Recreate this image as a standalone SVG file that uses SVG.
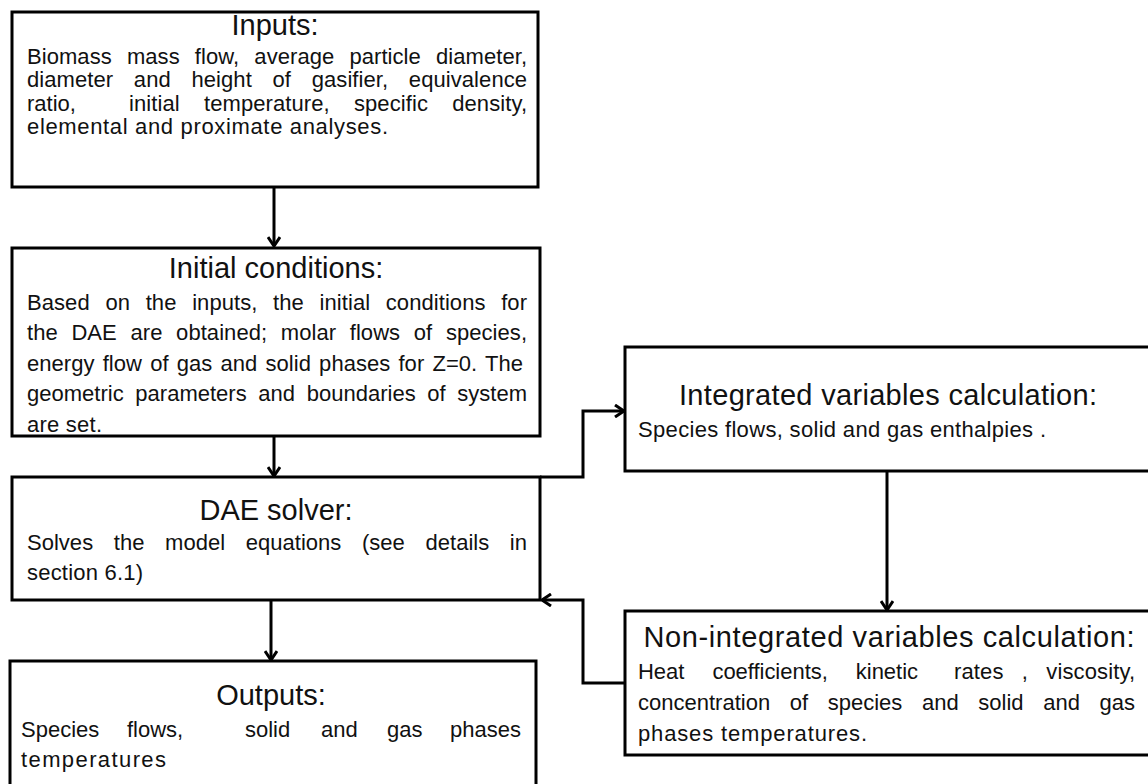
<svg xmlns="http://www.w3.org/2000/svg" width="1148" height="784" viewBox="0 0 1148 784">
<defs>
<style>
.box{fill:#fff;stroke:#000;stroke-width:3}
.t{font-family:"Liberation Sans",Arial,sans-serif;font-size:29px;fill:#111;text-anchor:middle}
.b{font-family:"Liberation Sans",Arial,sans-serif;font-size:22px;fill:#111}
.c{fill:none;stroke:#000;stroke-width:3}
</style>
<marker id="ah" markerWidth="14" markerHeight="14" refX="11" refY="7" orient="auto" markerUnits="userSpaceOnUse">
<polyline points="2,1 11,7 2,13" fill="none" stroke="#000" stroke-width="3"/>
</marker>
</defs>
<rect width="1148" height="784" fill="#fff"/>
<g id="connectors">
<line class="c" x1="274" y1="187" x2="274" y2="246" marker-end="url(#ah)"/>
<line class="c" x1="274" y1="436" x2="274" y2="476" marker-end="url(#ah)"/>
<line class="c" x1="271" y1="600" x2="271" y2="660" marker-end="url(#ah)"/>
<polyline class="c" points="540,477 583,477 583,411 624,411" marker-end="url(#ah)"/>
<line class="c" x1="887" y1="471" x2="887" y2="610" marker-end="url(#ah)"/>
<polyline class="c" points="625,683 583,683 583,600 542,600" marker-end="url(#ah)"/>
</g>
<g id="inputs">
<rect class="box" x="12" y="12" width="526" height="175"/>
<text class="t" x="275" y="35">Inputs:</text>
<text class="b" x="27" y="64" word-spacing="9" textLength="500" lengthAdjust="spacing">Biomass mass flow, average particle diameter,</text>
<text class="b" x="27" y="87" word-spacing="14.5" textLength="500" lengthAdjust="spacing">diameter and height of gasifier, equivalence</text>
<text class="b" x="27" y="111">ratio,</text>
<text class="b" x="129" y="111" word-spacing="18" textLength="398" lengthAdjust="spacing">initial temperature, specific density,</text>
<text class="b" x="27" y="134" textLength="361" lengthAdjust="spacing">elemental and proximate analyses.</text>
</g>
<g id="initial">
<rect class="box" x="12" y="248" width="528" height="188"/>
<text class="t" x="276" y="278">Initial conditions:</text>
<text class="b" x="27" y="310" word-spacing="9.5" textLength="500" lengthAdjust="spacing">Based on the inputs, the initial conditions for</text>
<text class="b" x="27" y="340" word-spacing="7.5" textLength="500" lengthAdjust="spacing">the DAE are obtained; molar flows of species,</text>
<text class="b" x="27" y="371" word-spacing="2" textLength="496" lengthAdjust="spacing">energy flow of gas and solid phases for Z=0. The</text>
<text class="b" x="27" y="401" word-spacing="5.5" textLength="500" lengthAdjust="spacing">geometric parameters and boundaries of system</text>
<text class="b" x="27" y="432" textLength="75" lengthAdjust="spacing">are set.</text>
</g>
<g id="dae">
<rect class="box" x="12" y="477" width="528" height="123"/>
<text class="t" x="276" y="520">DAE solver:</text>
<text class="b" x="27" y="550" word-spacing="14.5" textLength="500" lengthAdjust="spacing">Solves the model equations (see details in</text>
<text class="b" x="27" y="580" textLength="116" lengthAdjust="spacing">section 6.1)</text>
</g>
<g id="outputs">
<rect class="box" x="10" y="661" width="526" height="140"/>
<text class="t" x="271" y="705">Outputs:</text>
<text class="b" x="21" y="737">Species</text>
<text class="b" x="127" y="737">flows,</text>
<text class="b" x="245" y="737">solid</text>
<text class="b" x="321" y="737">and</text>
<text class="b" x="387" y="737">gas</text>
<text class="b" x="450" y="737">phases</text>
<text class="b" x="21" y="767" textLength="145" lengthAdjust="spacing">temperatures</text>
</g>
<g id="integrated">
<rect class="box" x="625" y="347" width="540" height="124"/>
<text class="t" x="888" y="405" textLength="418" lengthAdjust="spacing">Integrated variables calculation:</text>
<text class="b" x="638" y="437" textLength="408" lengthAdjust="spacing">Species flows, solid and gas enthalpies .</text>
</g>
<g id="nonintegrated">
<rect class="box" x="625" y="611" width="540" height="144"/>
<text class="t" x="889" y="647" textLength="491" lengthAdjust="spacing">Non-integrated variables calculation:</text>
<text class="b" x="638" y="679" word-spacing="22" textLength="280" lengthAdjust="spacing">Heat coefficients, kinetic</text>
<text class="b" x="954" y="679" word-spacing="12" textLength="181" lengthAdjust="spacing">rates , viscosity,</text>
<text class="b" x="638" y="710" word-spacing="13.5" textLength="497" lengthAdjust="spacing">concentration of species and solid and gas</text>
<text class="b" x="638" y="741" textLength="229" lengthAdjust="spacing">phases temperatures.</text>
</g>
</svg>
